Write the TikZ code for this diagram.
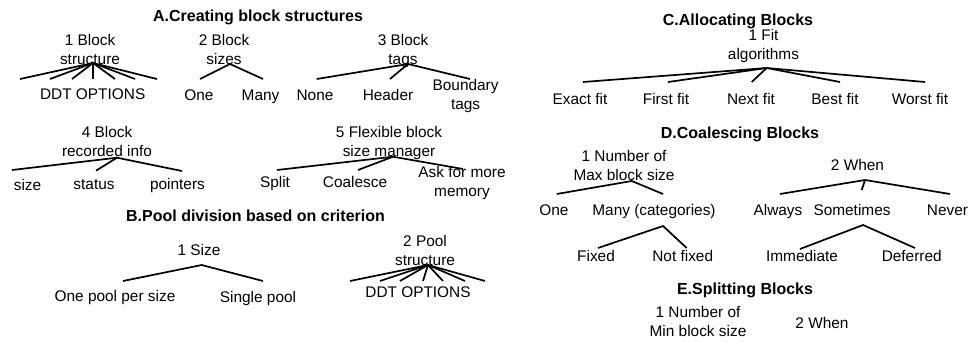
\documentclass[tikz,border=0pt]{standalone}
\usepackage{fontspec}
\setmainfont{Liberation Sans}
\usepackage{tikz}
\usetikzlibrary{positioning}
\newcommand{\lblfont}{\fontsize{15.4}{18.5}\selectfont}
\newcommand{\hdrfont}{\bfseries\fontsize{16}{19}\selectfont}

\begin{document}
\begin{tikzpicture}[x=1pt, y=-1pt,
    lbl/.style={font=\lblfont, align=center, inner sep=0pt, anchor=base},
    hdr/.style={font=\hdrfont, inner sep=0pt, anchor=base},
    branch/.style={line width=1.7pt}]
  \useasboundingbox (0,0) rectangle (971,341);
  % A. creating block structures
  \node[hdr] (hdrA) at (258,21) {A.Creating block structures};
  \node[lbl] (bstruct) at (90,64) {1 Block\\structure};
  \coordinate (apA1) at (93,63);
  \foreach \e [count=\i] in {20,50,72,93,115,135,157} {
    \coordinate (ddtA\i) at (\e,79);
    \draw[branch] (apA1) -- (ddtA\i);
  }
  \node[lbl] (ddtA) at (92.7,99) {DDT OPTIONS};
  \node[lbl] (bsizes) at (224,64) {2 Block\\sizes};
  \coordinate (apA2) at (230,64);
  \coordinate (eOne) at (200,79);
  \coordinate (eMany) at (263,79);
  \node[lbl] (one) at (199,100) {One};
  \node[lbl] (many) at (260.5,100) {Many};
  \draw[branch] (eOne) -- (apA2) -- (eMany);
  \node[lbl] (btags) at (403,64) {3 Block\\tags};
  \coordinate (apA3) at (408,64);
  \coordinate (eNone) at (316.7,79);
  \coordinate (eHeader) at (390,79);
  \coordinate (eBound) at (470,79);
  \node[lbl] (none) at (315,100) {None};
  \node[lbl] (header) at (388,100) {Header};
  \node[lbl] (bound) at (465.6,109) {Boundary\\tags};
  \draw[branch] (eNone) -- (apA3) -- (eBound);
  \draw[branch] (apA3) -- (eHeader);
  \node[lbl] (binfo) at (107,156) {4 Block\\recorded info};
  \coordinate (apA4) at (117,157.7);
  \coordinate (eSize) at (12,170);
  \coordinate (eStatus) at (96,170.7);
  \coordinate (ePtr) at (182,171);
  \node[lbl] (size) at (27.5,190) {size};
  \node[lbl] (status) at (94,189) {status};
  \node[lbl] (ptr) at (177.5,189) {pointers};
  \draw[branch] (eSize) -- (apA4) -- (ePtr);
  \draw[branch] (apA4) -- (eStatus);
  \node[lbl] (flex) at (389,156) {5 Flexible block\\size manager};
  \coordinate (apA5) at (393,156.7);
  \coordinate (eSplit) at (277,170);
  \coordinate (eCoal) at (358,170);
  \coordinate (eAsk) at (463,169);
  \node[lbl] (split) at (275,187) {Split};
  \node[lbl] (coal) at (355,187) {Coalesce};
  \node[lbl] (ask) at (462,196) {Ask for more\\memory};
  \draw[branch] (eSplit) -- (apA5) -- (eAsk);
  \draw[branch] (apA5) -- (eCoal);
  % B. pool division
  \node[hdr] (hdrB) at (255.5,221.7) {B.Pool division based on criterion};
  \node[lbl] (psize) at (199,255) {1 Size};
  \coordinate (apB1) at (201.7,265);
  \coordinate (ePer) at (123,281);
  \coordinate (eSingle) at (263,281);
  \node[lbl] (per) at (115,301.7) {One pool per size};
  \node[lbl] (single) at (258,302) {Single pool};
  \draw[branch] (ePer) -- (apB1) -- (eSingle);
  \node[lbl] (pstruct) at (425,265) {2 Pool\\structure};
  \coordinate (apB2) at (428,265);
  \foreach \e [count=\i] in {350,380,400,423,443,465,485} {
    \coordinate (ddtB\i) at (\e,281);
    \draw[branch] (apB2) -- (ddtB\i);
  }
  \node[lbl] (ddtB) at (418,297) {DDT OPTIONS};
  % C. allocating blocks
  \node[hdr] (hdrC) at (738,25) {C.Allocating Blocks};
  \node[lbl] (fit) at (763.5,59) {1 Fit\\algorithms};
  \coordinate (apC1) at (766.7,68);
  \foreach \e/\c/\t [count=\i] in {583/580/Exact fit,668/666/First fit,751.7/751/Next fit,840/835/Best fit,925/920/Worst fit} {
    \coordinate (eFit\i) at (\e,82);
    \node[lbl] (fit\i) at (\c,104) {\t};
    \draw[branch] (apC1) -- (eFit\i);
  }
  % D. coalescing blocks
  \node[hdr] (hdrD) at (740,138.3) {D.Coalescing Blocks};
  \node[lbl] (maxsz) at (624,180) {1 Number of\\Max block size};
  \coordinate (apD1) at (631.7,181);
  \coordinate (eDOne) at (556.7,194);
  \coordinate (eDMany) at (663,194);
  \node[lbl] (dOne) at (554,215) {One};
  \node[lbl] (dMany) at (654,215) {Many (categories)};
  \draw[branch] (eDOne) -- (apD1) -- (eDMany);
  \coordinate (apMany) at (663,226);
  \coordinate (eFixed) at (598,248);
  \coordinate (eNotFixed) at (686.7,248);
  \node[lbl] (fixed) at (596,261) {Fixed};
  \node[lbl] (notfixed) at (682.7,261) {Not fixed};
  \draw[branch] (eFixed) -- (apMany) -- (eNotFixed);
  \node[lbl] (dWhen) at (857.5,170) {2 When};
  \coordinate (apD2) at (865,180);
  \coordinate (eAlways) at (780,194);
  \coordinate (eSome) at (861.7,190);
  \coordinate (eNever) at (950,194);
  \node[lbl] (always) at (778,215) {Always};
  \node[lbl] (some) at (852,215) {Sometimes};
  \node[lbl] (never) at (947.5,215) {Never};
  \draw[branch] (eAlways) -- (apD2) -- (eNever);
  \draw[branch] (apD2) -- (eSome);
  \coordinate (apSome) at (863,225);
  \coordinate (eImm) at (800,249);
  \coordinate (eDef) at (915,248);
  \node[lbl] (imm) at (802,261) {Immediate};
  \node[lbl] (deferred) at (911.7,261) {Deferred};
  \draw[branch] (eImm) -- (apSome) -- (eDef);
  % E. splitting blocks
  \node[hdr] (hdrE) at (745,294.5) {E.Splitting Blocks};
  \node[lbl] (minsz) at (698,336) {1 Number of\\Min block size};
  \node[lbl] (eWhen) at (822,328) {2 When};
\end{tikzpicture}
\end{document}
